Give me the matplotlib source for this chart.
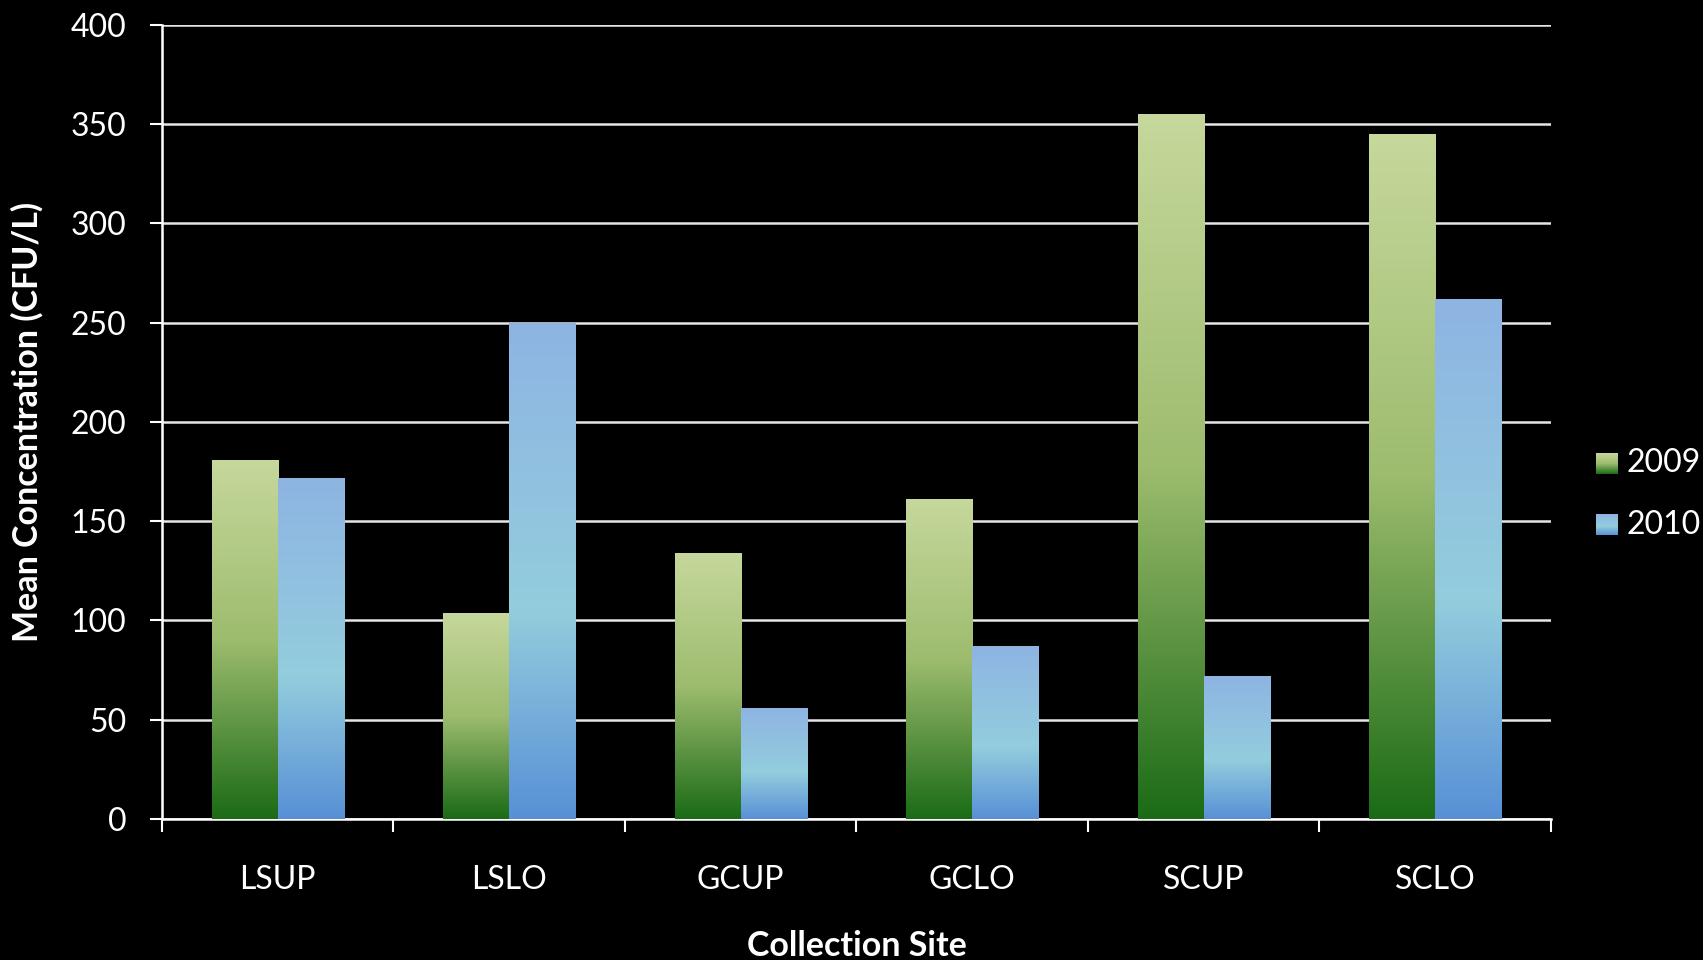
import numpy as np
import matplotlib.pyplot as plt
from matplotlib.colors import LinearSegmentedColormap

# ===== data =====
sites = ['LSUP', 'LSLO', 'GCUP', 'GCLO', 'SCUP', 'SCLO']
years = ['2009', '2010']
conc_2009 = [181, 104, 134, 161, 355, 345]
conc_2010 = [172, 250, 56, 87, 72, 262]

plt.rcParams['font.family'] = ['Lato', 'DejaVu Sans']

# gradients, bottom -> top
green_cmap = LinearSegmentedColormap.from_list(
    'g', [(0.0, '#1b6b16'), (0.5, '#9dbc6e'), (1.0, '#c6d89c')])
blue_cmap = LinearSegmentedColormap.from_list(
    'b', [(0.0, '#5890d6'), (0.42, '#93cddd'), (1.0, '#8eb4e3')])
grad = np.linspace(0, 1, 256).reshape(-1, 1)

fig = plt.figure(figsize=(17.03, 9.6), dpi=100, facecolor='black')
ax = fig.add_axes([0.0951, 0.1469, 0.8156, 0.8271])
ax.set_facecolor('black')

x = np.arange(len(sites))
w = 1 / 3.5
series = [(conc_2009, green_cmap, -w / 2), (conc_2010, blue_cmap, w / 2)]
for vals, cmap, off in series:
    bars = ax.bar(x + off, vals, w, color='none', edgecolor='none', zorder=3)
    for b in bars:
        img = ax.imshow(grad, cmap=cmap, origin='lower', aspect='auto',
                        extent=[b.get_x(), b.get_x() + b.get_width(), 0, b.get_height()],
                        zorder=3, interpolation='bilinear')
        img.set_clip_path(b)

ax.set_xlim(-0.5, len(sites) - 0.5)
ax.set_ylim(0, 400)
ax.set_yticks(np.arange(0, 401, 50))
ax.grid(axis='y', color='#e6e6e6', linewidth=1.8, zorder=1)
ax.set_axisbelow(True)

# category boundaries get tick marks, labels sit in the middle
ax.set_xticks(np.arange(-0.5, len(sites)))
ax.set_xticklabels([])
ax.set_xticks(x, minor=True)
ax.set_xticklabels(sites, minor=True)
ax.tick_params(axis='x', which='major', direction='out', length=9, width=1.5, colors='white')
ax.tick_params(axis='x', which='minor', length=0, pad=33, labelsize=23, labelcolor='white')
ax.tick_params(axis='y', direction='out', length=8.5, width=1.5, pad=17, labelsize=23, colors='white')

for s in ['top', 'right']:
    ax.spines[s].set_visible(False)
for s in ['left', 'bottom']:
    ax.spines[s].set_color('white')
    ax.spines[s].set_linewidth(1.8)

ax.set_xlabel('Collection Site', fontsize=24.5, fontweight='bold', color='white')
ax.xaxis.set_label_coords(0.5, -0.140)
ax.set_ylabel('Mean Concentration (CFU/L)', fontsize=24.5, fontweight='bold', color='white')
ax.yaxis.set_label_coords(-0.085, 0.5)

# legend with gradient swatches
for i, (lab, cmap) in enumerate(zip(years, [green_cmap, blue_cmap])):
    y0 = 1 - (474 + i * 61) / 960
    lax = fig.add_axes([1596 / 1703, y0, 22 / 1703, 21 / 960])
    lax.imshow(grad, cmap=cmap, origin='lower', aspect='auto')
    lax.set_axis_off()
    fig.text(1626 / 1703, y0 + 10.5 / 960, lab, color='white', fontsize=23, va='center', ha='left')

plt.savefig('out.png', dpi=100, facecolor='black')
